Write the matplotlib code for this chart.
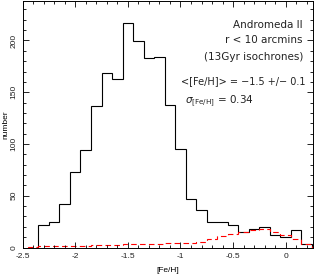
import numpy as np
import matplotlib.pyplot as plt
from matplotlib.ticker import MultipleLocator, FormatStrFormatter

# black histogram: bins of 0.1 from -2.35 to 0.25
edges = np.round(np.arange(-2.35, 0.251, 0.1), 2)
counts = [22, 25, 42, 73, 94, 137, 169, 163, 217, 199, 183, 184, 138,
          95, 47, 36, 25, 25, 22, 15, 18, 20, 12, 10, 17, 3]

# red dashed model histogram: bins of 0.1 from -2.45 to 0.25
model_edges = np.round(np.arange(-2.45, 0.251, 0.1), 2)
model_counts = [0.5, 1, 1, 1.5, 1.5, 1.5, 2, 2, 2.5, 3, 3, 3.5, 3.5, 4,
                4, 4, 5, 8, 11, 13, 15, 17, 18, 15, 12, 8, 3]

plt.rcParams['font.family'] = ['Liberation Sans', 'DejaVu Sans']

fig = plt.figure(figsize=(3.14, 2.75), dpi=100)
ax = fig.add_axes([0.072, 0.1, 0.925, 0.896])

ax.stairs(counts, edges, color='black', lw=0.8)
ax.stairs(model_counts, model_edges, color='red', lw=0.8, ls=(0, (5, 3)))

ax.set_xlim(-2.5, 0.26)
ax.set_ylim(0, 238)
ax.xaxis.set_major_locator(MultipleLocator(0.5))
ax.xaxis.set_minor_locator(MultipleLocator(0.1))
ax.xaxis.set_major_formatter(FormatStrFormatter('%g'))
ax.yaxis.set_major_locator(MultipleLocator(50))
ax.yaxis.set_minor_locator(MultipleLocator(10))
ax.tick_params(which='both', direction='in', top=True, right=True,
               labelsize=6, width=0.6, labelcolor='#222222')
ax.tick_params(which='major', length=4)
ax.tick_params(which='minor', length=2)
ax.tick_params(axis='x', pad=4)
for lab in ax.get_yticklabels():
    lab.set_rotation(90)
    lab.set_va('center')
for s in ax.spines.values():
    s.set_linewidth(0.7)

ax.set_xlabel('[Fe/H]', fontsize=6, labelpad=5)
ax.set_ylabel('number', fontsize=6, labelpad=1)

txt = dict(transform=ax.transAxes, va='center', family='DejaVu Sans', color='#222222')
tx = 0.965
ax.text(tx, 0.905, 'Andromeda II', ha='right', fontsize=7.5, **txt)
ax.text(tx, 0.842, 'r < 10 arcmins', ha='right', fontsize=7.5, **txt)
ax.text(tx, 0.773, '(13Gyr isochrones)', ha='right', fontsize=7.5, **txt)
ax.text(0.975, 0.675, '<[Fe/H]> = \u22121.5 +/\u2212 0.1', ha='right', fontsize=7, **txt)
ax.text(0.56, 0.595, r'$\sigma_{\mathrm{[Fe/H]}}$ = 0.34', ha='left', fontsize=7.5, **txt)

fig.savefig('out.png', dpi=100)
